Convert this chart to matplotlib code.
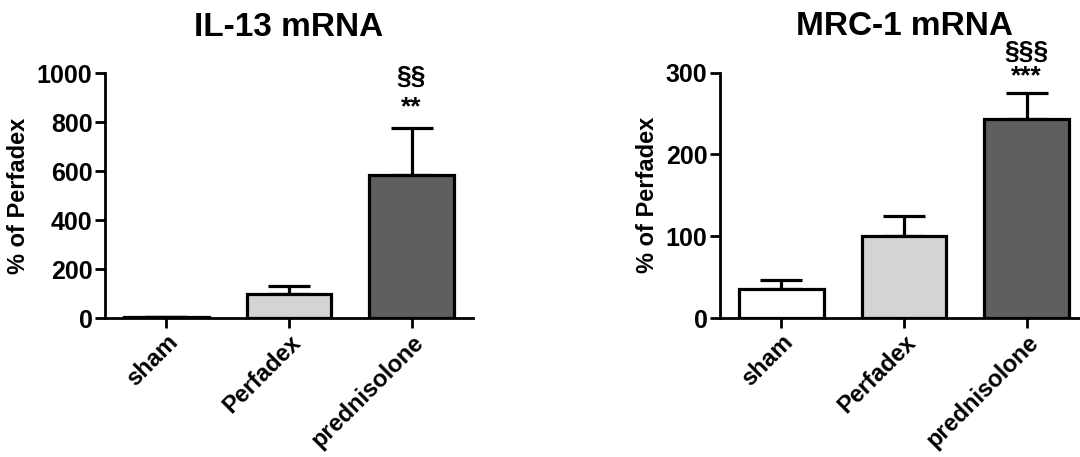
import numpy as np
import matplotlib.pyplot as plt

plt.rcParams['font.family'] = ['Liberation Sans', 'DejaVu Sans']
plt.rcParams['font.weight'] = 'bold'

groups = ['sham', 'Perfadex', 'prednisolone']
colors = ['white', '#d4d4d4', '#5f5f5f']

il13_mean = [4, 100, 584]
il13_err = [2, 32, 193]
mrc1_mean = [35.5, 100, 243]
mrc1_err = [11, 25, 32]

fig = plt.figure(figsize=(10.8, 4.57), dpi=100)
ax1 = fig.add_axes([0.0972, 0.304, 0.3407, 0.536])
ax2 = fig.add_axes([0.6667, 0.304, 0.3407, 0.537])


def draw(ax, mean, err, title, ymax, step, marks):
    x = np.arange(len(groups))
    ax.bar(x, mean, width=0.69, color=colors, edgecolor='black', linewidth=2.3, zorder=2)
    ax.errorbar(x, mean, yerr=[np.zeros(len(err)), err], fmt='none', ecolor='black',
                elinewidth=2.3, capsize=15, capthick=2.3, zorder=1)
    ax.set_xlim(-0.5, 2.5)
    ax.set_ylim(0, ymax)
    ax.set_yticks(np.arange(0, ymax + 1, step))
    ax.set_xticks(x)
    ax.set_xticklabels(groups, rotation=45, ha='right', rotation_mode='anchor',
                       fontsize=17, fontweight='bold')
    for lab in ax.get_yticklabels():
        lab.set_fontsize(18)
        lab.set_fontweight('bold')
    ax.tick_params(width=2, length=7, pad=2)
    ax.spines['top'].set_visible(False)
    ax.spines['right'].set_visible(False)
    ax.spines['left'].set_linewidth(2)
    ax.spines['bottom'].set_linewidth(2)
    ax.set_ylabel('% of Perfadex', fontsize=17, fontweight='bold', labelpad=5)
    ax.set_title(title, fontsize=24, fontweight='bold', pad=27)
    top = mean[2] + err[2]
    for txt, off in marks:
        ax.text(2, top + off * ymax, txt, ha='center', va='center',
                fontsize=19, fontweight='bold', clip_on=False)


draw(ax1, il13_mean, il13_err, 'IL-13 mRNA', 1000, 200, [('**', 0.084), ('§§', 0.207)])
draw(ax2, mrc1_mean, mrc1_err, 'MRC-1 mRNA', 300, 100, [('***', 0.07), ('§§§', 0.167)])

fig.savefig('out.png', dpi=100)
